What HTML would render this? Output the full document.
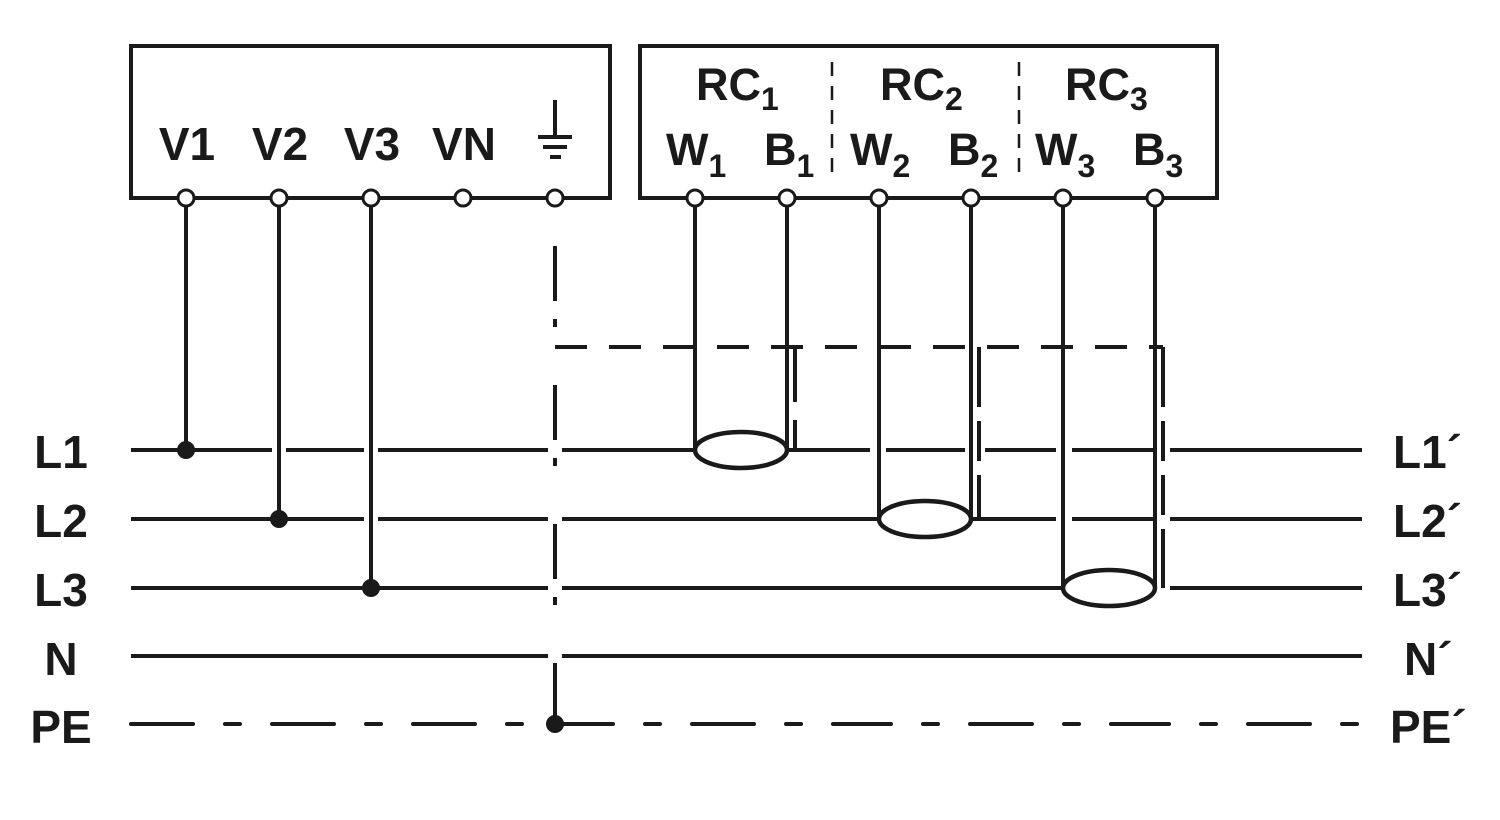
<!DOCTYPE html>
<html><head><meta charset="utf-8"><style>
html,body{margin:0;padding:0;background:#fff;}
svg{display:block;}
text{font-family:"Liberation Sans",sans-serif;font-weight:bold;fill:#1a1a1a;}
</style></head><body>
<svg width="1500" height="820" viewBox="0 0 1500 820" xmlns="http://www.w3.org/2000/svg">
<g stroke="#1a1a1a" stroke-width="4" fill="none" stroke-linecap="butt">
<rect x="131" y="46" width="479" height="152"/>
<rect x="640" y="46" width="577" height="152"/>
<line x1="832" y1="62" x2="832" y2="182" stroke-width="2.5" stroke-dasharray="14,10"/>
<line x1="1019" y1="62" x2="1019" y2="182" stroke-width="2.5" stroke-dasharray="14,10"/>
<line x1="555" y1="100" x2="555" y2="137"/>
<line x1="538" y1="137" x2="572" y2="137"/>
<line x1="543" y1="147" x2="567" y2="147"/>
<line x1="550" y1="157" x2="561" y2="157"/>

<path d="M131 450H272 M286 450H364 M378 450H548 M562 450H695 M787 450H795 M795 450H870 M886 450H965 M985 450H1056 M1072 450H1157 M1170 450H1362"/>
<path d="M131 519H364 M378 519H548 M562 519H879 M971 519H1056 M1072 519H1157 M1170 519H1362"/>
<path d="M131 588H548 M562 588H1063 M1155 588H1157 M1170 588H1362"/>
<path d="M131 656H548 M562 656H1362"/>
<line x1="131" y1="724" x2="555" y2="724" stroke-dasharray="62,32,15,32" stroke-linecap="round"/>
<line x1="555" y1="724" x2="1362" y2="724" stroke-dasharray="58,32,15,32,62,32,15,32" stroke-linecap="round"/>

<line x1="186" y1="206" x2="186" y2="450"/>
<line x1="279" y1="206" x2="279" y2="519"/>
<line x1="371" y1="206" x2="371" y2="588"/>
<line x1="555" y1="206" x2="555" y2="724" stroke-dasharray="0,40,55,18,8,18" />

<line x1="555" y1="347" x2="1163" y2="347" stroke-dasharray="32,22"/>
<line x1="795" y1="347" x2="795" y2="450" stroke-dasharray="55,18,30,0"/>
<line x1="979" y1="347" x2="979" y2="519" stroke-dasharray="60,14,40,14,50"/>
<line x1="1163" y1="347" x2="1163" y2="588" stroke-dasharray="60,14,40,14,40,14,60"/>

<line x1="695" y1="206" x2="695" y2="450"/>
<line x1="787" y1="206" x2="787" y2="450"/>
<line x1="879" y1="206" x2="879" y2="519"/>
<line x1="971" y1="206" x2="971" y2="519"/>
<line x1="1063" y1="206" x2="1063" y2="588"/>
<line x1="1155" y1="206" x2="1155" y2="588"/>
<ellipse cx="741" cy="450" rx="46" ry="18" stroke-width="4.5"/>
<ellipse cx="925" cy="519" rx="46" ry="18" stroke-width="4.5"/>
<ellipse cx="1109" cy="588" rx="46" ry="18" stroke-width="4.5"/>
</g>
<g stroke="#1a1a1a" stroke-width="3" fill="#fff">
<circle cx="186" cy="198" r="8"/><circle cx="279" cy="198" r="8"/><circle cx="371" cy="198" r="8"/><circle cx="463" cy="198" r="8"/><circle cx="555" cy="198" r="8"/>
<circle cx="695" cy="198" r="8"/><circle cx="787" cy="198" r="8"/><circle cx="879" cy="198" r="8"/><circle cx="971" cy="198" r="8"/><circle cx="1063" cy="198" r="8"/><circle cx="1155" cy="198" r="8"/>
</g>
<g fill="#1a1a1a">
<circle cx="186" cy="450" r="9"/><circle cx="279" cy="519" r="9"/><circle cx="371" cy="588" r="9"/><circle cx="555" cy="724" r="9"/>
</g>
<g font-size="46" text-anchor="middle">
<text x="187" y="160">V1</text>
<text x="280" y="160">V2</text>
<text x="372" y="160">V3</text>
<text x="464" y="160">VN</text>
</g>
<g font-size="45">
<text x="696" y="100">RC<tspan font-size="32" dy="10">1</tspan></text>
<text x="880" y="100">RC<tspan font-size="32" dy="10">2</tspan></text>
<text x="1065" y="100">RC<tspan font-size="32" dy="10">3</tspan></text>
<text x="666" y="165">W<tspan font-size="32" dy="12">1</tspan></text>
<text x="764" y="165">B<tspan font-size="32" dy="12">1</tspan></text>
<text x="850" y="165">W<tspan font-size="32" dy="12">2</tspan></text>
<text x="948" y="165">B<tspan font-size="32" dy="12">2</tspan></text>
<text x="1035" y="165">W<tspan font-size="32" dy="12">3</tspan></text>
<text x="1133" y="165">B<tspan font-size="32" dy="12">3</tspan></text>
</g>
<g font-size="46" text-anchor="middle">
<text x="61" y="468">L1</text>
<text x="61" y="537">L2</text>
<text x="61" y="606">L3</text>
<text x="61" y="675">N</text>
<text x="61" y="743">PE</text>
</g>
<g font-size="46">
<text x="1393" y="468">L1´</text>
<text x="1393" y="537">L2´</text>
<text x="1393" y="606">L3´</text>
<text x="1404" y="675">N´</text>
<text x="1390" y="743">PE´</text>
</g>
</svg>
</body></html>
